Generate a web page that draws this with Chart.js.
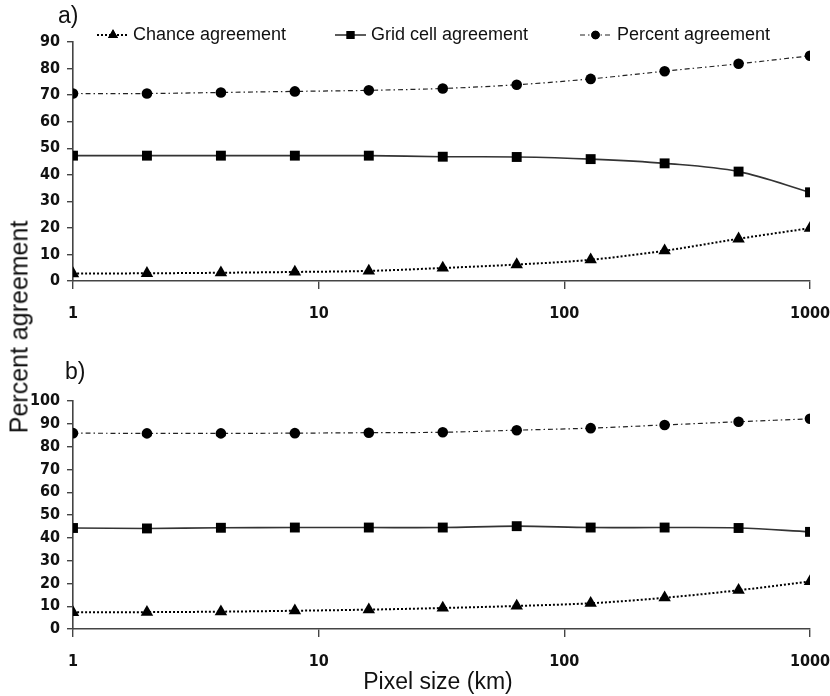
<!DOCTYPE html>
<html>
<head>
<meta charset="utf-8">
<script src="https://cdn.jsdelivr.net/npm/chart.js@4.4.1/dist/chart.umd.min.js"></script>
<style>
  html, body { margin: 0; padding: 0; background: #fff; }
  #wrap { position: relative; width: 830px; height: 696px; overflow: hidden; background: #fff; }
  canvas { position: absolute; left: 0; }
  .txt { position: absolute; font-family: "Liberation Sans", Arial, sans-serif; color: #111; white-space: nowrap; line-height: 1; }
</style>
</head>
<body>
<div id="wrap">
  <canvas id="chartA" width="830" height="330" style="top:0px;width:830px;height:330px"></canvas>
  <canvas id="chartB" width="830" height="366" style="top:330px;width:830px;height:366px"></canvas>
  <div class="txt" style="left:58px;top:4px;font-size:23px;">a)</div>
  <div class="txt" style="left:65px;top:360px;font-size:23px;">b)</div>
  <div class="txt" style="left:19px;top:327px;font-size:25px;transform:translate(-50%,-50%) rotate(-90deg);">Percent agreement</div>
  <div class="txt" style="left:438px;top:681px;font-size:23px;transform:translate(-50%,-50%);">Pixel size (km)</div>
</div>
<script>
// ---- data ----
const pixelSizes = [1, 2, 4, 8, 16, 32, 64, 128, 256, 512, 1000];
const chanceA  = [2.8, 2.9, 3.1, 3.4, 3.8, 4.9, 6.2, 8.0, 11.4, 15.9, 19.9];
const gridA    = [47.2, 47.2, 47.2, 47.2, 47.2, 46.8, 46.7, 45.9, 44.3, 41.2, 33.4];
const percentA = [70.6, 70.6, 71.0, 71.4, 71.8, 72.5, 73.9, 76.1, 79.0, 81.8, 84.8];
const chanceB  = [7.3, 7.4, 7.6, 8.0, 8.5, 9.2, 10.1, 11.3, 13.7, 17.0, 20.9];
const gridB    = [44.3, 44.1, 44.4, 44.5, 44.5, 44.5, 45.1, 44.5, 44.5, 44.3, 42.6];
const percentB = [85.9, 85.8, 85.8, 85.9, 86.1, 86.3, 87.2, 88.1, 89.5, 90.9, 92.2];
const xTickValues = [1, 10, 100, 1000];
const seriesNames = ["Chance agreement", "Grid cell agreement", "Percent agreement"];
const yMaxA = 90, yMaxB = 100, yStep = 10;

// ---- styles ----
const styles = [
  { borderColor: '#000', backgroundColor: '#000', borderWidth: 2, borderDash: [2, 2], pointStyle: 'triangle', pointRadius: 7.2 },
  { borderColor: '#333', backgroundColor: '#000', borderWidth: 1.6, borderDash: [], pointStyle: 'rect', pointRadius: 7 },
  { borderColor: '#222', backgroundColor: '#000', borderWidth: 1.2, borderDash: [5, 3, 1.5, 3], pointStyle: 'circle', pointRadius: 5.3 }
];

function makeDatasets(arrs) {
  return arrs.map((vals, i) => Object.assign({
    label: seriesNames[i],
    data: pixelSizes.map((x, j) => ({ x: x, y: vals[j] })),
    pointBorderWidth: 0,
    pointHoverRadius: 6,
    pointBackgroundColor: '#000',
    pointBorderColor: '#000',
    tension: 0.35,
    fill: false
  }, styles[i]));
}

const tickFont = { family: '"DejaVu Sans Condensed", "Liberation Sans Narrow", Lato, sans-serif', size: 16, weight: 'bold' };

function makeOptions(yMax, padTop, xHeight) {
  return {
    responsive: false,
    animation: false,
    events: [],
    layout: { padding: { top: padTop, right: 20, left: 0, bottom: 0 } },
    plugins: { legend: { display: false }, tooltip: { enabled: false } },
    scales: {
      x: {
        type: 'logarithmic',
        min: 1, max: 1000,
        afterBuildTicks: (s) => { s.ticks = xTickValues.map(v => ({ value: v, major: true })); },
        afterFit: (s) => { s.height = xHeight; s.paddingLeft = 0; s.paddingRight = 0; },
        ticks: { color: '#111', font: tickFont, padding: 15, maxRotation: 0, autoSkip: false,
                 callback: (v) => String(v) },
        grid: { drawOnChartArea: false, drawTicks: true, tickLength: 8, color: '#444', lineWidth: 1.4 },
        border: { display: true, color: '#444', width: 1.6 }
      },
      y: {
        min: 0, max: yMax,
        afterFit: (s) => { s.width = 73; s.paddingTop = 0; s.paddingBottom = 0; },
        ticks: { stepSize: yStep, color: '#111', font: tickFont, padding: 7, autoSkip: false },
        grid: { drawOnChartArea: false, drawTicks: true, tickLength: 6, color: '#444', lineWidth: 1.4 },
        border: { display: true, color: '#444', width: 1.6 }
      }
    }
  };
}

// custom legend: line segment + marker + text
const legendItems = [
  { x1: 97, x2: 129, tx: 133 },
  { x1: 335, x2: 366, tx: 371 },
  { x1: 580, x2: 611, tx: 617 }
];
const legendPlugin = {
  id: 'customLegend',
  afterDraw(chart) {
    const ctx = chart.ctx;
    const y = 35;
    chart.data.datasets.forEach((ds, i) => {
      const it = legendItems[i];
      ctx.save();
      ctx.strokeStyle = ds.borderColor;
      ctx.lineWidth = ds.borderWidth;
      ctx.setLineDash(ds.borderDash || []);
      ctx.beginPath();
      ctx.moveTo(it.x1, y);
      ctx.lineTo(it.x2, y);
      ctx.stroke();
      ctx.setLineDash([]);
      Chart.helpers.drawPoint(ctx, {
        pointStyle: ds.pointStyle, radius: ds.pointRadius * 0.8, rotation: 0, borderWidth: 0
      }, (it.x1 + it.x2) / 2, y);
      ctx.fillStyle = '#000';
      ctx.fill();
      ctx.fillStyle = '#111';
      ctx.font = '18px "Liberation Sans", Arial, sans-serif';
      ctx.textBaseline = 'middle';
      ctx.textAlign = 'left';
      ctx.fillText(ds.label, it.tx, y);
      ctx.restore();
    });
  }
};

new Chart(document.getElementById('chartA'), {
  type: 'line',
  data: { datasets: makeDatasets([chanceA, gridA, percentA]) },
  options: makeOptions(yMaxA, 42, 49),
  plugins: [legendPlugin]
});

new Chart(document.getElementById('chartB'), {
  type: 'line',
  data: { datasets: makeDatasets([chanceB, gridB, percentB]) },
  options: makeOptions(yMaxB, 71, 67)
});
</script>
</body>
</html>
